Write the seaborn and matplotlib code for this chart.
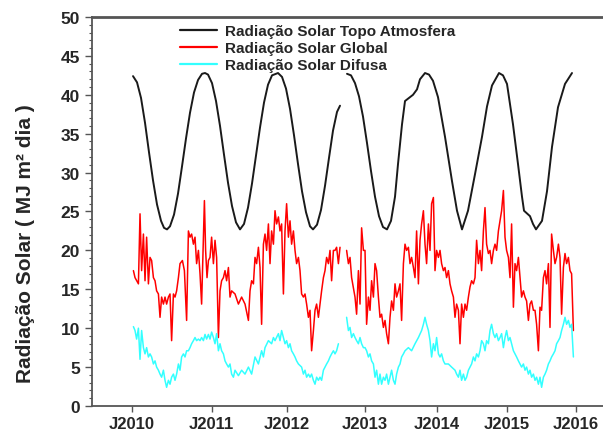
import numpy as np
import pandas as pd
import seaborn as sns
import matplotlib.pyplot as plt
from matplotlib.lines import Line2D
from matplotlib.ticker import MultipleLocator

# x = indice do registro diario (serie com falhas, por isso os anos nao sao igualmente espacados)
anos_pos = [0, 398, 775, 1165, 1523, 1875, 2218]
anos_lbl = ['J2010', 'J2011', 'J2012', 'J2013', 'J2014', 'J2015', 'J2016']

nan = np.nan

# radiacao no topo da atmosfera
topo_x = [5, 25, 45, 65, 85, 105, 125, 145, 160, 175, 190, 210, 230, 250, 270, 290, 310, 330, 350, 365,
          380, 400, 420, 440, 460, 480, 500, 520, 540, 560, 580, 600, 620, 640, 660, 680, 700, 730,
          750, 770, 790, 810, 830, 850, 870, 890, 905, 925, 945, 965, 985, 1005, 1025, 1040, 1057,
          1075, 1095, 1115, 1135, 1155, 1175, 1195, 1215, 1235, 1255, 1275, 1295, 1315, 1330, 1350,
          1365, 1385, 1405, 1425, 1440, 1465, 1485, 1505, 1530, 1565, 1600, 1625, 1650, 1680, 1715,
          1750, 1775, 1800, 1835, 1855, 1875, 1905, 1930, 1950, 1960, 1990, 2005, 2020, 2050, 2075,
          2100, 2130, 2165, 2200]
topo_y = [42.4, 41.6, 39.6, 36.4, 32.6, 29.0, 25.9, 23.8, 22.9, 22.7, 23.1, 24.6, 27.3, 30.8, 34.4, 37.7,
          40.3, 41.9, 42.7, 42.8, 42.6, 41.5, 39.2, 36.0, 32.3, 28.7, 25.7, 23.6, 22.7, 23.4, 25.5, 28.6,
          32.2, 35.8, 39.0, 41.3, 42.5, 42.8, 42.3, 40.8, 38.2, 34.8, 31.1, 27.6, 24.9, 23.1, 22.7, 23.3,
          25.2, 28.3, 31.9, 35.4, 37.8, 38.6, nan,
          42.7, 42.5, 41.5, 39.8, 37.2, 33.8, 30.2, 26.9, 24.4, 23.0, 22.7, 23.8, 26.9, 31.1, 36.2,
          39.2, 39.6, 40.0, 40.7, 42.0, 42.8, 42.6, 41.8, 39.7, 34.6, 28.9, 25.1, 22.7, 25.1, 29.8,
          34.6, 38.5, 41.2, 42.8, 42.5, 41.4, 36.2, 31.1, 26.9, 25.1, 24.4, 23.4, 22.7, 23.8, 27.6,
          33.3, 38.4, 41.4, 42.8]

# radiacao global
glob_x = [7, 15, 32, 40, 48, 57, 65, 73, 82, 90, 98, 107, 115, 123, 132, 140, 148, 157, 165, 173, 182,
          190, 198, 207, 215, 223, 232, 240, 252, 262, 273, 282, 290, 298, 307, 315, 323, 332, 340, 348,
          362, 368, 375, 382, 390, 398, 407, 415, 423, 432, 440, 448, 457, 465, 473, 482, 490, 498, 515,
          532, 548, 565, 582, 590, 598, 607, 615, 623, 632, 640, 648, 657, 665, 673, 682, 690, 698, 707,
          715, 723, 732, 740, 748, 757, 765, 773, 782, 790, 798, 807, 815, 823, 832, 840, 848, 857, 865,
          873, 882, 890, 898, 907, 915, 923, 932, 940, 948, 957, 965, 973, 982, 990, 998, 1007, 1015,
          1023, 1032, 1040, 1057,
          1073, 1082, 1090, 1098, 1115, 1123, 1132, 1140, 1148, 1157, 1165, 1173, 1182, 1190, 1198, 1207,
          1215, 1223, 1232, 1240, 1248, 1257, 1265, 1273, 1282, 1290, 1298, 1307, 1315, 1323, 1332, 1340,
          1348, 1357, 1365, 1373, 1382, 1390, 1398, 1407, 1415, 1423, 1432, 1440, 1448, 1457, 1465, 1473,
          1482, 1490, 1498, 1507, 1515, 1523, 1532, 1540, 1548, 1557, 1565, 1573, 1582, 1590, 1598, 1607,
          1615, 1623, 1632, 1640, 1648, 1657, 1665, 1673, 1682, 1690, 1698, 1707, 1715, 1723, 1732, 1740,
          1748, 1757, 1765, 1773, 1782, 1790, 1798, 1807, 1815, 1823, 1832, 1840, 1848, 1857, 1865, 1873,
          1882, 1890, 1898, 1907, 1915, 1923, 1932, 1940, 1948, 1957, 1965, 1973, 1982, 1990, 1998, 2007,
          2015, 2023, 2032, 2040, 2048, 2057, 2065, 2073, 2082, 2090, 2098, 2107, 2115, 2123, 2132, 2140,
          2148, 2157, 2165, 2173, 2182, 2190, 2198, 2207]
glob_y = [17.4, 16.5, 15.7, 24.7, 17.4, 22.1, 16.1, 21.7, 15.7, 19.1, 18.7, 16.5, 16.1, 14.8, 14.4, 11.4,
          14.0, 13.1, 14.0, 13.1, 14.0, 14.4, 8.4, 14.4, 14.0, 14.8, 16.5, 18.3, 18.7, 17.4, 11.0, 22.5,
          21.7, 22.1, 20.8, 21.7, 18.3, 20.0, 17.0, 13.1, 26.4, 20.0, 16.5, 18.7, 19.1, 21.7, 18.3, 21.3,
          19.1, 8.8, 14.8, 16.1, 16.5, 17.4, 16.1, 17.8, 14.0, 14.8, 14.4, 13.1, 14.0, 13.1, 11.0, 14.8,
          16.1, 15.7, 19.1, 18.3, 20.4, 17.8, 10.5, 20.8, 22.1, 20.0, 23.4, 18.3, 22.5, 20.8, 25.1, 23.4,
          24.3, 22.5, 23.4, 14.4, 22.5, 26.0, 21.7, 23.8, 20.8, 22.5, 20.0, 18.3, 19.1, 17.4, 14.4, 14.0,
          14.4, 13.1, 11.4, 12.3, 7.1, 9.7, 12.3, 13.1, 11.4, 13.1, 14.8, 16.5, 17.4, 19.1, 18.3, 20.0,
          16.1, 20.0, 20.0, 20.4, 18.3, 20.4, nan,
          20.0, 18.3, 19.1, 16.5, 14.0, 11.8, 17.4, 13.1, 22.9, 20.0, 20.0, 10.5, 14.0, 12.3, 16.1, 14.0,
          18.3, 17.4, 14.0, 11.4, 11.8, 10.1, 11.0, 9.3, 8.0, 11.4, 13.5, 12.3, 15.7, 14.0, 14.8, 15.7,
          11.0, 18.3, 20.8, 20.0, 20.4, 18.3, 19.1, 17.8, 16.5, 22.5, 15.7, 21.3, 23.4, 25.1, 20.8, 18.3,
          23.4, 20.0, 26.0, 26.8, 17.4, 20.0, 19.1, 20.0, 18.3, 17.4, 17.8, 16.5, 17.4, 15.7, 14.8, 14.0,
          11.4, 13.1, 12.3, 8.0, 13.1, 11.4, 13.1, 12.3, 14.0, 15.3, 16.1, 15.7, 16.5, 21.3, 18.3, 20.0,
          17.4, 22.5, 25.5, 20.8, 19.6, 20.0, 18.3, 20.0, 20.8, 20.0, 22.5, 23.8, 25.1, 27.7, 21.7, 20.0,
          19.1, 16.5, 23.4, 12.7, 18.3, 17.4, 19.1, 16.5, 14.0, 14.8, 14.0, 13.5, 11.0, 13.1, 13.5, 12.3,
          12.3, 10.5, 7.1, 12.7, 12.3, 16.5, 17.4, 15.7, 18.3, 10.1, 22.1, 20.0, 18.3, 19.1, 20.8, 19.1,
          11.8, 17.8, 19.6, 18.3, 19.1, 17.4, 17.0, 9.7]

# radiacao difusa
difu_x = [7, 15, 23, 32, 40, 48, 57, 65, 73, 82, 90, 98, 107, 115, 123, 132, 140, 148, 157, 165, 173,
          182, 190, 198, 207, 215, 223, 232, 240, 248, 257, 265, 273, 282, 290, 298, 307, 315, 323, 332,
          340, 348, 357, 365, 373, 382, 390, 398, 407, 415, 423, 432, 440, 448, 457, 465, 473, 482, 490,
          498, 507, 515, 532, 548, 565, 582, 598, 615, 632, 648, 657, 665, 682, 698, 707, 715, 732, 740,
          748, 757, 765, 773, 782, 790, 798, 807, 815, 823, 832, 848, 857, 865, 873, 882, 890, 898, 907,
          915, 923, 932, 940, 948, 957, 965, 973, 982, 990, 998, 1007, 1015, 1023, 1032, 1057,
          1073, 1082, 1090, 1098, 1107, 1115, 1123, 1132, 1140, 1148, 1157, 1165, 1173, 1182, 1190, 1198,
          1207, 1215, 1223, 1232, 1240, 1248, 1257, 1265, 1273, 1282, 1290, 1298, 1307, 1315, 1323, 1332,
          1340, 1348, 1357, 1365, 1382, 1398, 1415, 1432, 1448, 1457, 1465, 1473, 1482, 1490, 1498, 1507,
          1515, 1523, 1532, 1540, 1548, 1557, 1565, 1582, 1598, 1615, 1623, 1632, 1640, 1648, 1657, 1665,
          1673, 1682, 1690, 1698, 1707, 1715, 1723, 1732, 1740, 1748, 1757, 1765, 1773, 1782, 1790, 1798,
          1807, 1815, 1823, 1832, 1840, 1848, 1857, 1865, 1873, 1882, 1890, 1898, 1907, 1915, 1923, 1932,
          1940, 1948, 1957, 1965, 1973, 1982, 1990, 1998, 2007, 2015, 2023, 2032, 2040, 2048, 2057, 2065,
          2073, 2082, 2090, 2098, 2107, 2115, 2123, 2132, 2140, 2148, 2157, 2165, 2173, 2182, 2190, 2198,
          2207]
difu_y = [10.2, 9.7, 8.6, 10.0, 6.0, 9.7, 7.5, 6.7, 7.5, 6.3, 6.7, 6.3, 5.4, 5.8, 5.0, 4.6, 4.1, 3.7,
          4.6, 3.3, 2.4, 3.3, 2.8, 3.7, 4.1, 3.3, 4.1, 5.4, 4.6, 6.3, 6.7, 6.3, 7.1, 7.1, 7.5, 8.0, 8.4,
          8.8, 8.4, 8.6, 8.4, 8.8, 8.4, 9.2, 8.6, 9.2, 8.6, 9.5, 8.8, 8.0, 9.3, 7.1, 8.0, 7.1, 6.7, 5.8,
          5.4, 5.0, 5.4, 4.1, 3.7, 4.6, 3.9, 4.6, 4.1, 5.0, 4.1, 6.3, 5.4, 7.1, 6.3, 7.5, 8.4, 8.0, 8.8,
          8.4, 9.3, 8.4, 9.7, 8.8, 8.0, 8.4, 7.5, 8.0, 7.1, 6.7, 6.3, 5.8, 5.4, 5.0, 4.1, 4.6, 3.7, 4.1,
          3.7, 4.1, 3.3, 2.8, 3.7, 3.3, 3.7, 3.3, 4.6, 5.0, 5.4, 5.8, 6.3, 6.7, 7.1, 6.7, 7.1, 8.0, nan,
          11.4, 9.7, 10.1, 8.8, 9.3, 8.8, 8.4, 8.0, 8.8, 8.0, 7.5, 7.5, 7.1, 6.3, 6.7, 5.8, 5.4, 3.7, 4.6,
          2.8, 4.1, 2.8, 3.7, 3.3, 4.1, 2.8, 3.7, 4.6, 3.3, 2.8, 4.1, 5.0, 5.4, 6.3, 6.7, 7.1, 7.5, 7.1,
          8.0, 8.8, 9.7, 10.5, 11.4, 10.5, 9.7, 8.4, 6.3, 8.0, 7.1, 8.8, 6.7, 6.3, 6.7, 5.8, 5.4, 5.4,
          5.0, 4.6, 4.1, 3.7, 4.6, 3.3, 4.1, 3.3, 3.7, 4.6, 5.0, 5.4, 6.3, 5.8, 6.7, 6.3, 7.1, 8.4, 8.0,
          7.1, 8.4, 8.0, 9.7, 10.5, 9.3, 8.8, 9.3, 8.4, 8.8, 9.3, 7.5, 8.8, 9.7, 8.4, 8.8, 8.0, 7.1, 6.7,
          6.3, 5.8, 5.4, 5.0, 5.4, 4.6, 5.0, 4.1, 4.6, 3.7, 4.1, 3.3, 3.7, 2.8, 3.7, 2.4, 3.7, 4.1, 4.6,
          5.4, 5.8, 6.3, 6.7, 7.1, 8.0, 8.4, 8.8, 9.7, 10.5, 11.4, 10.5, 11.0, 10.1, 10.5, 6.3]

series = [('Radiação Solar Topo Atmosfera', topo_x, topo_y, '#1a1a1a', 1.4),
          ('Radiação Solar Global', glob_x, glob_y, '#ff0000', 1.1),
          ('Radiação Solar Difusa', difu_x, difu_y, '#33ffff', 1.1)]

sns.set_style('white')
plt.rcParams['font.family'] = ['Liberation Sans', 'DejaVu Sans']
plt.rcParams['font.weight'] = 'bold'

fig = plt.figure(figsize=(6.03, 4.35), dpi=100)
ax = fig.add_axes([0.1526, 0.0644, 0.8474, 0.8942])

handles = []
for nome, xs, ys, cor, lw in series:
    df = pd.DataFrame({'x': xs, 'y': ys})
    # separa os trechos onde ha falha (nan)
    df['trecho'] = df['y'].isna().cumsum()
    df = df.dropna()
    sns.lineplot(data=df, x='x', y='y', units='trecho', estimator=None,
                 color=cor, lw=lw, ax=ax, legend=False)
    handles.append(Line2D([], [], color=cor, lw=1.6))

ax.set_xlim(-200, 2355)
ax.set_ylim(0, 50)
ax.set_xticks(anos_pos)
ax.set_xticklabels(anos_lbl, fontsize=12, fontweight='bold')
ax.yaxis.set_major_locator(MultipleLocator(5))
ax.yaxis.set_minor_locator(MultipleLocator(1))
for lb in ax.get_yticklabels():
    lb.set_fontsize(12.5)
    lb.set_fontweight('bold')
ax.tick_params(axis='y', which='major', direction='out', length=5, width=1, left=True, color='#555555')
ax.tick_params(axis='y', which='minor', direction='out', length=2.5, width=0.8, left=True, color='#555555')
ax.tick_params(axis='x', which='major', direction='out', length=4, width=1, bottom=True, color='#555555')
ax.set_xlabel('')
ax.set_ylabel('Radiação Solar ( MJ m² dia )', fontsize=15, fontweight='bold')
# rotulo do eixo y fica um pouco abaixo do centro no original
ax.yaxis.set_label_coords(-0.112, 0.42)

for lado in ['left', 'bottom', 'top']:
    ax.spines[lado].set_color('#555555')
    ax.spines[lado].set_linewidth(1.3)
ax.spines['top'].set_linewidth(2)
ax.spines['right'].set_visible(False)

ax.legend(handles, [s[0] for s in series], loc='upper left', bbox_to_anchor=(0.155, 1.005),
          frameon=False, handlelength=2.4, handletextpad=0.5,
          labelspacing=0.2, borderaxespad=0.2, prop={'weight': 'bold', 'size': 11})

plt.savefig('out.png', dpi=100)
